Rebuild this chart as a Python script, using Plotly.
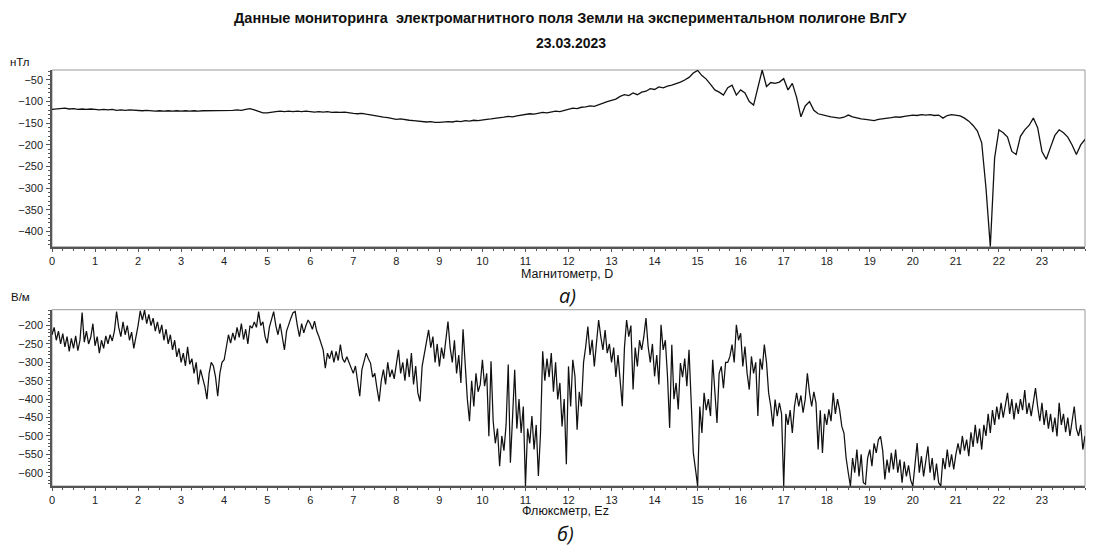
import plotly.graph_objects as go

# ---------------- data ----------------
# Magnetometer D (nT), sampled every 0.1 h
D_STEP = 0.1
D_VALUES = (
    [-118, -117, -116, -115, -117, -116, -118, -117, -118, -117] +   # 0 h
    [-118, -119, -118, -119, -118, -120, -119, -120, -119, -120] +   # 1 h
    [-120, -121, -120, -121, -122, -121, -122, -121, -122, -121] +   # 2 h
    [-122, -121, -122, -121, -122, -121, -121, -120, -121, -120] +   # 3 h
    [-121, -120, -120, -119, -120, -118, -116, -119, -123, -126] +   # 4 h
    [-126, -124, -123, -122, -123, -122, -123, -122, -123, -122] +   # 5 h
    [-123, -124, -123, -124, -123, -125, -124, -125, -124, -126] +   # 6 h
    [-127, -128, -127, -129, -131, -133, -134, -136, -137, -139] +   # 7 h
    [-141, -140, -142, -143, -144, -145, -146, -147, -146, -148] +   # 8 h
    [-148, -147, -146, -147, -145, -146, -144, -145, -143, -144] +   # 9 h
    [-142, -141, -140, -139, -137, -136, -134, -135, -133, -131] +   # 10 h
    [-130, -128, -129, -127, -125, -126, -124, -122, -123, -120] +   # 11 h
    [-117, -115, -116, -113, -112, -110, -111, -107, -104, -100] +   # 12 h
    [-97, -94, -88, -84, -86, -80, -84, -78, -76, -70] +             # 13 h
    [-72, -66, -68, -64, -62, -59, -55, -50, -44, -34] +             # 14 h
    [-28, -40, -48, -60, -73, -78, -85, -68, -62, -85] +             # 15 h
    [-73, -80, -100, -108, -70, -27, -65, -56, -58, -55] +           # 16 h
    [-47, -73, -58, -90, -135, -110, -100, -120, -128, -131] +       # 17 h
    [-133, -135, -136, -138, -136, -131, -135, -138, -140, -141] +   # 18 h
    [-142, -144, -141, -140, -138, -137, -135, -136, -134, -133] +   # 19 h
    [-131, -132, -130, -131, -130, -132, -131, -138, -132, -130] +   # 20 h
    [-131, -133, -138, -145, -155, -168, -195, -300, -435, -230] +   # 21 h
    [-165, -172, -182, -215, -222, -180, -165, -155, -138, -160] +   # 22 h
    [-215, -233, -205, -178, -165, -172, -182, -200, -222, -200] +   # 23 h
    [-187]
)
D_HOURS = [round(i * D_STEP, 2) for i in range(len(D_VALUES))]

# Fluxmeter Ez (V/m), sampled every 0.05 h
EZ_STEP = 0.05
EZ_VALUES = (
    [-225, -205, -240, -215, -250, -222, -258, -230, -270, -235,
     -262, -228, -268, -240, -165, -245, -215, -250, -232, -195] +   # 0 h
    [-255, -230, -275, -240, -262, -228, -250, -225, -242, -215,
     -162, -205, -230, -190, -225, -200, -240, -218, -262, -235] +   # 1 h
    [-200, -160, -185, -158, -195, -170, -200, -180, -215, -190,
     -222, -198, -240, -210, -250, -225, -266, -240, -285, -262] +   # 2 h
    [-300, -275, -310, -258, -305, -290, -330, -300, -360, -320,
     -345, -365, -400, -330, -300, -310, -340, -392, -330, -300] +   # 3 h
    [-293, -260, -225, -248, -220, -240, -205, -232, -195, -238,
     -210, -250, -200, -207, -190, -205, -162, -200, -190, -230] +   # 4 h
    [-248, -205, -185, -162, -200, -225, -195, -230, -266, -215,
     -194, -180, -165, -162, -200, -230, -195, -220, -200, -185] +   # 5 h
    [-195, -210, -188, -215, -230, -250, -266, -316, -275, -290,
     -268, -300, -270, -295, -252, -290, -300, -285, -302, -315] +   # 6 h
    [-330, -310, -350, -392, -320, -300, -275, -290, -302, -340,
     -330, -370, -406, -350, -320, -360, -300, -340, -320, -345] +   # 7 h
    [-300, -266, -330, -300, -350, -290, -340, -275, -360, -310,
     -383, -406, -310, -275, -240, -212, -260, -230, -300, -250] +   # 8 h
    [-311, -260, -290, -240, -189, -260, -300, -240, -330, -280,
     -356, -210, -320, -400, -460, -350, -420, -330, -380, -360] +   # 9 h
    [-293, -365, -330, -501, -297, -460, -520, -480, -582, -500,
     -540, -470, -306, -573, -450, -320, -480, -400, -492, -420] +   # 10 h
    [-636, -480, -520, -446, -537, -470, -609, -492, -270, -350,
     -290, -340, -275, -380, -300, -401, -356, -474, -400, -577] +   # 11 h
    [-311, -420, -293, -338, -483, -380, -420, -300, -257, -203,
     -280, -239, -311, -250, -185, -230, -266, -212, -275, -250] +   # 12 h
    [-300, -260, -340, -280, -350, -419, -260, -185, -230, -200,
     -374, -260, -311, -240, -266, -230, -180, -257, -300, -250] +   # 13 h
    [-338, -280, -360, -198, -266, -240, -338, -478, -252, -400,
     -356, -428, -302, -340, -290, -365, -266, -401, -546, -590] +   # 14 h
    [-636, -420, -492, -383, -430, -400, -446, -293, -380, -465,
     -330, -311, -370, -300, -300, -284, -252, -300, -198, -240] +   # 15 h
    [-221, -311, -257, -330, -374, -284, -330, -300, -446, -290,
     -320, -252, -300, -383, -420, -474, -401, -446, -410, -440] +   # 16 h
    [-636, -440, -470, -430, -492, -420, -383, -420, -390, -437,
     -400, -330, -383, -420, -380, -410, -537, -430, -546, -440] +   # 17 h
    [-470, -428, -460, -383, -440, -400, -430, -474, -492, -560,
     -600, -636, -560, -600, -537, -610, -550, -627, -631, -560] +   # 18 h
    [-537, -582, -520, -546, -510, -501, -540, -618, -564, -600,
     -546, -591, -537, -600, -564, -627, -570, -610, -580, -620] +   # 19 h
    [-636, -580, -519, -600, -555, -610, -570, -528, -600, -560,
     -620, -575, -627, -636, -560, -590, -537, -585, -550, -591] +   # 20 h
    [-550, -520, -550, -500, -540, -510, -555, -490, -530, -470,
     -520, -480, -537, -470, -500, -440, -492, -430, -470, -420] +   # 21 h
    [-455, -410, -450, -420, -383, -440, -400, -455, -410, -440,
     -400, -430, -375, -440, -410, -446, -400, -370, -420, -460] +   # 22 h
    [-410, -470, -430, -480, -440, -490, -450, -501, -410, -470,
     -440, -490, -450, -500, -460, -420, -480, -500, -470, -537] +   # 23 h
    [-500]
)
EZ_HOURS = [round(i * EZ_STEP, 3) for i in range(len(EZ_VALUES))]

X_TICKS = list(range(0, 24))
D_TICKS = [-50, -100, -150, -200, -250, -300, -350, -400]
EZ_TICKS = [-200, -250, -300, -350, -400, -450, -500, -550, -600]

TITLE_1 = "Данные мониторинга  электромагнитного поля Земли на экспериментальном полигоне ВлГУ"
TITLE_2 = "23.03.2023"

# ---------------- layout helpers ----------------
OFF = 8                      # page body margin of the html page
W, H = 1094 - OFF, 546 - OFF
L, R, T, B = 52 - OFF, 1085 - OFF, 70 - OFF, 486.5 - OFF
PH = B - T


def px(xp):
    """page pixel x -> paper coordinate"""
    return (xp - OFF - L) / (R - L)


def py(yp):
    """page pixel y -> paper coordinate"""
    return (B - (yp - OFF)) / PH


top_dom = [py(247), 1.0]
bot_dom = [0.0, py(310)]

FONT = "Liberation Sans, Arial, sans-serif"

fig = go.Figure()
fig.add_trace(go.Scatter(x=D_HOURS, y=D_VALUES, mode="lines",
                         line=dict(color="#111111", width=1.3),
                         xaxis="x", yaxis="y", showlegend=False, hoverinfo="skip"))
fig.add_trace(go.Scatter(x=EZ_HOURS, y=EZ_VALUES, mode="lines",
                         line=dict(color="#111111", width=1.25),
                         xaxis="x2", yaxis="y2", showlegend=False, hoverinfo="skip"))

axis_common = dict(
    showgrid=False, zeroline=False,
    showline=True, linecolor="#555555", linewidth=1.5,
    ticks="outside", tickwidth=1, tickcolor="#555555",
    tickfont=dict(family=FONT, size=11, color="#222222"),
)
x_minor = dict(dtick=0.25, ticks="outside", ticklen=2, tickcolor="#555555")
y_minor = dict(dtick=10, ticks="outside", ticklen=2, tickcolor="#555555")

fig.update_layout(
    width=W, height=H,
    margin=dict(l=L, r=W - R, t=T, b=H - B, pad=0),
    paper_bgcolor="white", plot_bgcolor="white",
    font=dict(family=FONT, color="#111111"),
    xaxis=dict(domain=[0, 1], range=[0, 24], tickmode="array", tickvals=X_TICKS,
               anchor="y", ticklen=3, minor=x_minor, **axis_common),
    yaxis=dict(domain=top_dom, range=[-435, -27], tickmode="array", tickvals=D_TICKS,
               anchor="x", ticklen=4, ticklabelstandoff=1, minor=y_minor, **axis_common),
    xaxis2=dict(domain=[0, 1], range=[0, 24], tickmode="array", tickvals=X_TICKS,
                anchor="y2", ticklen=3, minor=x_minor, **axis_common),
    yaxis2=dict(domain=bot_dom, range=[-636, -157], tickmode="array", tickvals=EZ_TICKS,
                anchor="x2", ticklen=4, ticklabelstandoff=1, minor=y_minor, **axis_common),
)

# light frame around each panel
for xr, yr in (("x", "y"), ("x2", "y2")):
    fig.add_shape(type="rect", xref=f"{xr} domain", yref=f"{yr} domain",
                  x0=0, x1=1, y0=0, y1=1, layer="below",
                  line=dict(color="#9a9a9a", width=1))


def note(text, xp, yp, size=12, bold=False, italic=False, xanchor="center", family=FONT):
    t = f"<b>{text}</b>" if bold else text
    t = f"<i>{t}</i>" if italic else t
    fig.add_annotation(text=t, x=px(xp), y=py(yp), xref="paper", yref="paper",
                       xanchor=xanchor, yanchor="middle", showarrow=False,
                       font=dict(family=family, size=size, color="#111111"))


note(TITLE_1, 571, 18, size=14.5, bold=True)
note(TITLE_2, 571, 43, size=14, bold=True)
note("нТл", 8, 62, size=11.5, xanchor="left")
note("В/м", 9, 297, size=11.5, xanchor="left")
note("Магнитометр, D", 567, 274, size=12.5)
note("а)", 567, 296, size=20, italic=True, family="Open Sans, DejaVu Sans, sans-serif")
note("Флюксметр, Ez", 565, 512, size=12.5)
note("б)", 565, 534, size=20, italic=True, family="Open Sans, DejaVu Sans, sans-serif")

fig.write_html("out.html")
